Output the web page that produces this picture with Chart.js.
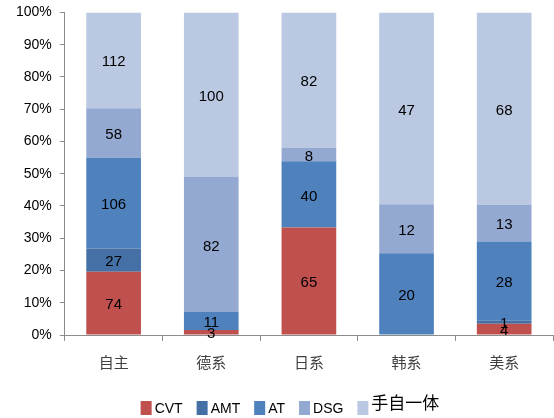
<!DOCTYPE html>
<html>
<head>
<meta charset="utf-8">
<script src="https://cdn.jsdelivr.net/npm/chart.js@4"></script>
<style>
  html, body { margin: 0; padding: 0; background: #fff; overflow: hidden; }
  #wrap { width: 554px; height: 418px; overflow: hidden; }
  #chart { display: block; margin-top: -4px; }
</style>
</head>
<body>
<div id="wrap"><canvas id="chart" width="554" height="422"></canvas></div>
<script>
// categories and raw counts
const categories = ["自主", "德系", "日系", "韩系", "美系"];
const seriesNames = ["CVT", "AMT", "AT", "DSG", "手自一体"];
const cvt = [74, 3, 65, 0, 4];
const amt = [27, 0, 0, 0, 1];
const at = [106, 11, 40, 20, 28];
const dsg = [58, 82, 8, 12, 13];
const manual = [112, 100, 82, 47, 68];
const yTicks = [0, 10, 20, 30, 40, 50, 60, 70, 80, 90, 100];

const colors = ["#C0504D", "#4470A6", "#4F81BD", "#94A9D1", "#BAC8E1"];
const font = "'Liberation Sans', 'Noto Sans CJK SC', sans-serif";
const cjkFont = "'Noto Sans CJK SC', sans-serif";

const raw = [cvt, amt, at, dsg, manual];
const totals = categories.map((c, i) => raw.reduce((s, arr) => s + arr[i], 0));

// convert counts to percent of each category
const datasets = raw.map((arr, k) => ({
  label: seriesNames[k],
  data: arr.map((v, i) => v / totals[i] * 100),
  counts: arr,
  backgroundColor: colors[k],
  borderWidth: 0,
  barPercentage: 0.56,
  categoryPercentage: 1.0,
}));

// draw the count in the middle of each segment
const segmentLabels = {
  id: "segmentLabels",
  afterDatasetsDraw(chart) {
    const ctx = chart.ctx;
    ctx.save();
    ctx.font = "15px " + font;
    ctx.fillStyle = "#000";
    ctx.textAlign = "center";
    ctx.textBaseline = "middle";
    chart.data.datasets.forEach((ds, di) => {
      const meta = chart.getDatasetMeta(di);
      meta.data.forEach((bar, i) => {
        const v = ds.counts[i];
        if (!v) return;
        ctx.fillText(String(v), bar.x, (bar.y + bar.base) / 2 + 2);
      });
    });
    ctx.restore();
  },
};

// legend drawn at the bottom, boxes close to their text
const bottomLegend = {
  id: "bottomLegend",
  afterDraw(chart) {
    const ctx = chart.ctx;
    ctx.save();
    const y = 412; // canvas is shifted up by 4px
    const gap = 3, spacing = 14, box = 11;
    const items = seriesNames.map((name, k) => {
      const isCjk = /[\u4e00-\u9fff]/.test(name);
      ctx.font = isCjk ? "17px " + cjkFont : "14px " + font;
      return { name, k, isCjk, w: ctx.measureText(name).width };
    });
    const total = items.reduce((s, it) => s + box + gap + it.w, 0) + spacing * (items.length - 1);
    let x = 290 - total / 2;
    items.forEach((it) => {
      ctx.fillStyle = colors[it.k];
      ctx.fillRect(x, y - 7, box, 14);
      x += box + gap;
      ctx.fillStyle = "#000";
      ctx.textAlign = "left";
      ctx.textBaseline = "middle";
      ctx.font = it.isCjk ? "17px " + cjkFont : "14px " + font;
      ctx.fillText(it.name, x, it.isCjk ? y - 5 : y + 1);
      x += it.w + spacing;
    });
    ctx.restore();
  },
};

new Chart(document.getElementById("chart"), {
  type: "bar",
  data: { labels: categories, datasets: datasets },
  options: {
    responsive: false,
    animation: false,
    layout: { padding: { top: 0, right: 1, left: 8, bottom: 35 } },
    scales: {
      x: {
        stacked: true,
        grid: {
          display: true,
          drawOnChartArea: false,
          drawTicks: true,
          tickLength: 6,
          offset: true,
          color: "#8C8C8C",
        },
        border: { color: "#8C8C8C", width: 1 },
        ticks: {
          color: "#404040",
          font: { family: cjkFont, size: 15 },
          padding: 12,
        },
      },
      y: {
        stacked: true,
        min: 0,
        max: 100,
        afterBuildTicks: (axis) => { axis.ticks = yTicks.map((v) => ({ value: v })); },
        grid: {
          display: true,
          drawOnChartArea: false,
          drawTicks: true,
          tickLength: 5,
          color: "#8C8C8C",
        },
        border: { color: "#8C8C8C", width: 1 },
        ticks: {
          color: "#000",
          font: { family: font, size: 14 },
          padding: 8,
          callback: (v) => v + "%",
        },
      },
    },
    plugins: {
      legend: { display: false },
      tooltip: { enabled: false },
    },
  },
  plugins: [segmentLabels, bottomLegend],
});
</script>
</body>
</html>
